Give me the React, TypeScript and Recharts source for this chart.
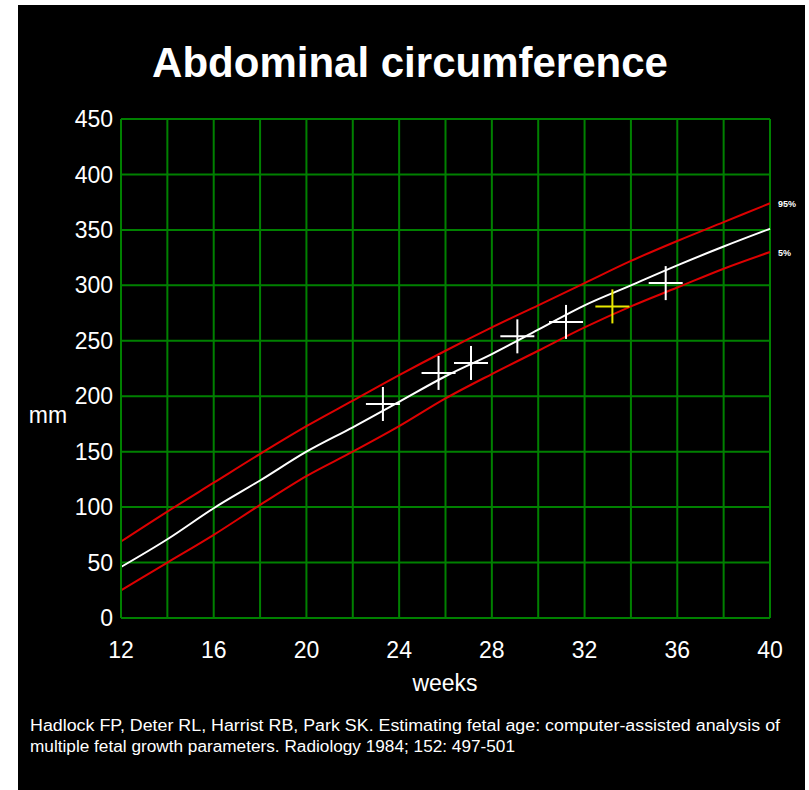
import * as React from 'react'
import { ComposedChart, Line, Scatter, XAxis, YAxis, CartesianGrid } from 'recharts'

const weeks = [12, 14, 16, 18, 20, 22, 24, 26, 28, 30, 32, 34, 36, 38, 40]
const mean = [46, 71, 99, 124, 150, 172, 195, 218, 238, 260, 282, 300, 318, 335, 351]
const p95 = [69, 96, 122, 148, 173, 196, 219, 241, 262, 282, 302, 322, 340, 357, 374]
const p5 = [25, 50, 75, 102, 128, 150, 173, 198, 220, 241, 262, 281, 298, 315, 330]

// measured exams
const examWeeks = [23.3, 25.7, 27.1, 29.1, 31.2, 35.5]
const examMm = [193, 221, 230, 254, 267, 302]
const lastWeek = [33.2]
const lastMm = [281]

const yTicks = [0, 50, 100, 150, 200, 250, 300, 350, 400, 450]
const xTicks = weeks

const curveData = weeks.map((w, i) => ({ week: w, mean: mean[i], p95: p95[i], p5: p5[i] }))
const examData = examWeeks.map((w, i) => ({ week: w, mm: examMm[i] }))
const lastData = lastWeek.map((w, i) => ({ week: w, mm: lastMm[i] }))

const FONT = '"Liberation Sans", Arial, sans-serif'
const GREEN = '#008000'
const RED = '#dd0000'

const cross = (color: string) => (props: any) => {
    const { cx, cy } = props
    return (
        <g stroke={color} strokeWidth={2}>
            <line x1={cx - 17} y1={cy} x2={cx + 17} y2={cy} />
            <line x1={cx} y1={cy - 17} x2={cx} y2={cy + 17} />
        </g>
    )
}

const endLabel = (text: string) => (props: any) => {
    const { x, y, index } = props
    if (index !== weeks.length - 1) return null
    return (
        <text x={x + 8} y={y + 4} fill="#fff" fontSize={9} fontFamily={FONT} fontWeight="bold">
            {text}
        </text>
    )
}

export default function App() {
    return (
        <div style={{ position: 'absolute', left: 18, top: 5, width: 787, height: 785, background: '#000' }}>
            <ComposedChart
                width={787}
                height={785}
                data={curveData}
                margin={{ top: 114, right: 35, left: 0, bottom: 132 }}
            >
                <CartesianGrid stroke={GREEN} strokeWidth={2} />
                <XAxis
                    type="number"
                    dataKey="week"
                    domain={[12, 40]}
                    ticks={xTicks}
                    interval={0}
                    height={40}
                    tickSize={0}
                    tickMargin={24}
                    axisLine={{ stroke: GREEN, strokeWidth: 2 }}
                    tickLine={false}
                    tickFormatter={(v: number) => ((v - 12) % 4 === 0 ? String(v) : '')}
                    tick={{ fill: '#fff', fontSize: 23, fontFamily: FONT }}
                />
                <YAxis
                    type="number"
                    domain={[0, 450]}
                    ticks={yTicks}
                    interval={0}
                    width={103}
                    tickSize={0}
                    tickMargin={8}
                    axisLine={{ stroke: GREEN, strokeWidth: 2 }}
                    tickLine={false}
                    tick={{ fill: '#fff', fontSize: 23, fontFamily: FONT }}
                />
                <Line type="monotone" dataKey="p95" stroke={RED} strokeWidth={2} dot={false} isAnimationActive={false} label={endLabel('95%')} />
                <Line type="monotone" dataKey="p5" stroke={RED} strokeWidth={2} dot={false} isAnimationActive={false} label={endLabel('5%')} />
                <Line type="monotone" dataKey="mean" stroke="#fff" strokeWidth={2} dot={false} isAnimationActive={false} />
                <Scatter data={examData} dataKey="mm" shape={cross('#fff')} isAnimationActive={false} />
                <Scatter data={lastData} dataKey="mm" shape={cross('#e8e800')} isAnimationActive={false} />
            </ComposedChart>
            <svg
                width={787}
                height={785}
                style={{ position: 'absolute', left: 0, top: 0, pointerEvents: 'none' }}
            >
                <text x={392} y={72} textAnchor="middle" fill="#fff" fontSize={42} fontWeight="bold" fontFamily={FONT}>
                    Abdominal circumference
                </text>
                <text x={30} y={418} textAnchor="middle" fill="#fff" fontSize={23} fontFamily={FONT}>
                    mm
                </text>
                <text x={427} y={686} textAnchor="middle" fill="#fff" fontSize={23} fontFamily={FONT}>
                    weeks
                </text>
                <text x={12} y={726} fill="#fff" fontSize={16} fontFamily={FONT} textLength={750} lengthAdjust="spacingAndGlyphs">
                    Hadlock FP, Deter RL, Harrist RB, Park SK. Estimating fetal age: computer-assisted analysis of
                </text>
                <text x={12} y={747} fill="#fff" fontSize={16} fontFamily={FONT} textLength={485} lengthAdjust="spacingAndGlyphs">
                    multiple fetal growth parameters. Radiology 1984; 152: 497-501
                </text>
            </svg>
        </div>
    )
}
